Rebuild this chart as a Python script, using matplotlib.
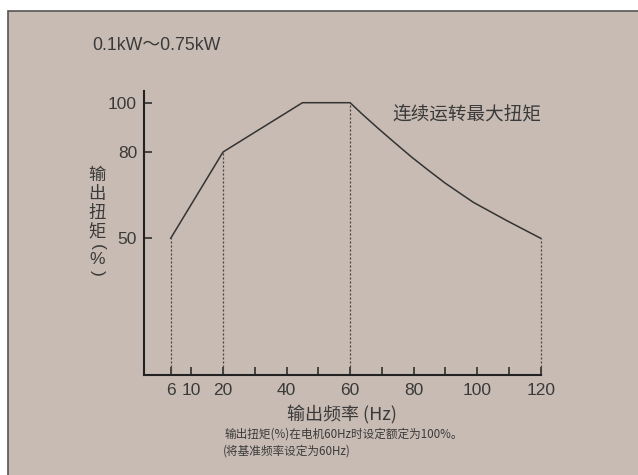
import numpy as np
import matplotlib
matplotlib.use("Agg")
import matplotlib.pyplot as plt
from matplotlib.patches import Rectangle

plt.rcParams['font.family'] = ['Liberation Sans', 'Noto Sans CJK SC', 'DejaVu Sans']

# Continuous max torque curve (output frequency Hz -> output torque %)
freq = [6, 20, 45, 60, 63.7, 68.9, 74.2, 79.4, 84.7, 89.9, 98.8, 109.4, 120]
torque = [50, 80, 100, 100, 95.5, 89.5, 83.6, 78.2, 73.6, 69.2, 62.5, 56.1, 50]

# Frequencies marked with a dotted drop line to the axis
marked_freq = [6, 20, 60, 120]

x_ticks = [6, 10, 20, 30, 40, 50, 60, 70, 80, 90, 100, 110, 120]
x_tick_labels = ['6', '10', '20', '', '40', '', '60', '', '80', '', '100', '', '120']
y_ticks = [50, 80, 100]
y_tick_labels = ['50', '80', '100']

title_text = '0.1kW～0.75kW'
curve_label = '连续运转最大扭矩'
x_label = '输出频率 (Hz)'
y_label_chars = ['输', '出', '扭', '矩', '(', '%', ')']
note_lines = ['输出扭矩(%)在电机60Hz时设定额定为100%。', '(将基准频率设定为60Hz)']

W, H = 638, 475
BG = '#c8bbb3'
INK = '#333333'
TXT = '#3a3a3a'


def piecewise_scale(src, dst):
    src = np.asarray(src, float)
    dst = np.asarray(dst, float)
    s0 = (dst[1] - dst[0]) / (src[1] - src[0])
    s1 = (dst[-1] - dst[-2]) / (src[-1] - src[-2])
    big = 1e4
    src_e = np.concatenate([[src[0] - big], src, [src[-1] + big]])
    dst_e = np.concatenate([[dst[0] - big * s0], dst, [dst[-1] + big * s1]])

    def fwd(v):
        return np.interp(v, src_e, dst_e)

    def inv(v):
        return np.interp(v, dst_e, src_e)
    return fwd, inv


fig = plt.figure(figsize=(W / 100, H / 100), dpi=100, facecolor='white')

# Tinted panel with a border on the top and left edges
fig.patches.append(Rectangle((8 / W, -0.1), 1.2, 1 - 11 / H + 0.1,
                             transform=fig.transFigure, facecolor=BG,
                             edgecolor='#555555', linewidth=1.2, zorder=-10))

ax_left, ax_right = 144 / W, 540.7 / W
ax_bottom, ax_top = 1 - 375 / H, 1 - 91 / H
ax = fig.add_axes([ax_left, ax_bottom, ax_right - ax_left, ax_top - ax_bottom])
ax.set_zorder(5)
ax.patch.set_alpha(0)

# Schematic (non-uniform) axis spacing
xf, xi = piecewise_scale([0, 6, 10, 120], [-4.88, 3.53, 10, 120])
yf, yi = piecewise_scale([0, 50, 80, 100, 104.7], [-375, -238.3, -152, -102.7, -91])
ax.set_xscale('function', functions=(xf, xi))
ax.set_yscale('function', functions=(yf, yi))
ax.set_xlim(0, 120)
ax.set_ylim(0, 104.7)

ax.plot(freq, torque, color=INK, linewidth=1.1, solid_joinstyle='round',
        zorder=3, clip_on=False)

for f in marked_freq:
    t = torque[freq.index(f)]
    ax.plot([f, f], [0, t], color='#444444', linewidth=0.9,
            linestyle=(0, (1.6, 1.6)), zorder=2, clip_on=False)

for side in ('top', 'right'):
    ax.spines[side].set_visible(False)
for side in ('left', 'bottom'):
    ax.spines[side].set_color('#222222')
    ax.spines[side].set_linewidth(1.5)

ax.set_xticks(x_ticks)
ax.set_xticklabels(x_tick_labels)
ax.set_yticks(y_ticks)
ax.set_yticklabels(y_tick_labels)
ax.minorticks_off()
ax.tick_params(axis='both', direction='in', length=6, width=1.1, color='#222222',
               labelsize=12.5, labelcolor=TXT)
ax.tick_params(axis='x', pad=6)
ax.tick_params(axis='y', pad=5)

fig.text(92 / W, 1 - 46 / H, title_text, fontsize=12.8, color=TXT,
         ha='left', va='center')
fig.text(392 / W, 1 - 114 / H, curve_label, fontsize=13.4, color=TXT,
         ha='left', va='center', family=['Noto Sans CJK SC'])

# Vertical stacked y-axis label (brackets turned to suit vertical writing)
y_pos = [175, 194, 213, 232, 247, 260, 273]
for ch, yp in zip(y_label_chars, y_pos):
    rot = -90 if ch in '()' else 0
    fam = ['Liberation Sans'] if ch in '()%' else ['Noto Sans CJK SC', 'DejaVu Sans']
    fig.text(97 / W, 1 - yp / H, ch, fontsize=12.5, color=TXT, rotation=rot,
             ha='center', va='center', family=fam)

fig.text(342 / W, 1 - 415 / H, x_label, fontsize=13, color=TXT,
         ha='center', va='center', family=['Noto Sans CJK SC', 'DejaVu Sans'])
fig.text(225 / W, 1 - 434 / H, note_lines[0], fontsize=8.4, color=TXT,
         ha='left', va='center', family=['Noto Sans CJK SC', 'DejaVu Sans'])
fig.text(223 / W, 1 - 451 / H, note_lines[1], fontsize=8.4, color=TXT,
         ha='left', va='center', family=['Noto Sans CJK SC', 'DejaVu Sans'])

fig.savefig('out.png', dpi=100, facecolor='white')
